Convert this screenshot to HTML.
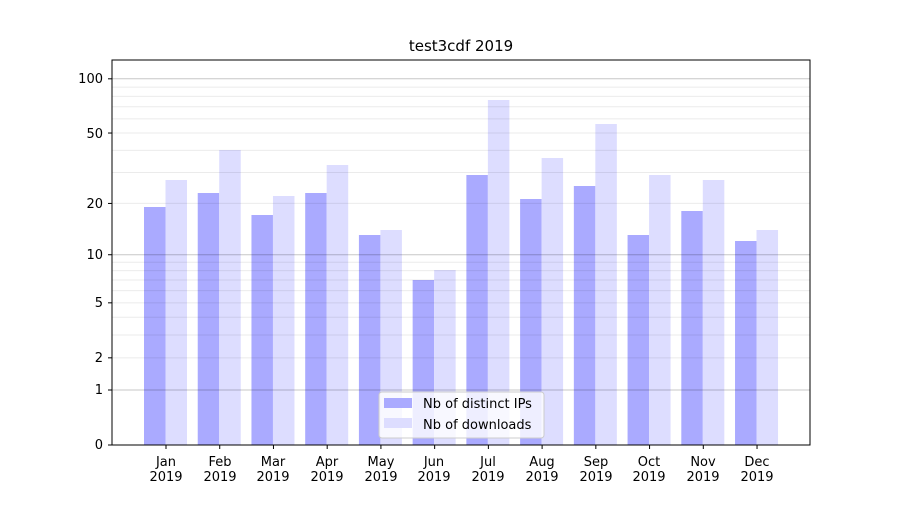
<!DOCTYPE html>
<html><head><meta charset="utf-8"><style>
body{margin:0;background:#fff}
svg text{font-family:"DejaVu Sans","Liberation Sans",sans-serif;font-size:13px;fill:#000}
</style></head><body>
<svg id="s" width="900" height="500" xmlns="http://www.w3.org/2000/svg">
<rect width="900" height="500" fill="#fff"/>
<g id="bars"></g>
<g id="grid"></g>
<rect x="112" y="60" width="698" height="385" fill="none" stroke="#000" stroke-width="1"/>
<g id="ticks"></g>
<text x="461" y="51" text-anchor="middle" style="font-size:15px">test3cdf 2019</text>
<g text-anchor="end">
<text x="103" y="449">0</text>
<text x="103" y="394">1</text>
<text x="103" y="362">2</text>
<text x="103" y="307">5</text>
<text x="103" y="259">10</text>
<text x="103" y="208">20</text>
<text x="103" y="138">50</text>
<text x="103" y="83">100</text>
</g>
<g text-anchor="middle">
<text x="166" y="466">Jan</text><text x="166" y="481">2019</text>
<text x="220" y="466">Feb</text><text x="220" y="481">2019</text>
<text x="273" y="466">Mar</text><text x="273" y="481">2019</text>
<text x="327" y="466">Apr</text><text x="327" y="481">2019</text>
<text x="381" y="466">May</text><text x="381" y="481">2019</text>
<text x="434" y="466">Jun</text><text x="434" y="481">2019</text>
<text x="488" y="466">Jul</text><text x="488" y="481">2019</text>
<text x="542" y="466">Aug</text><text x="542" y="481">2019</text>
<text x="596" y="466">Sep</text><text x="596" y="481">2019</text>
<text x="649" y="466">Oct</text><text x="649" y="481">2019</text>
<text x="703" y="466">Nov</text><text x="703" y="481">2019</text>
<text x="757" y="466">Dec</text><text x="757" y="481">2019</text>
</g>
<rect x="379" y="392" width="165" height="46" rx="3" fill="#fff" fill-opacity="0.8" stroke="#ccc"/>
<rect x="384" y="398" width="28" height="10" fill="#aaaaff"/>
<rect x="384" y="418" width="28" height="10" fill="#ddddff"/>
<text x="423" y="408">Nb of distinct IPs</text>
<text x="423" y="429">Nb of downloads</text>
</svg>
<script>
var ns="http://www.w3.org/2000/svg";
function Y(v){return 445-182.7*Math.log10(1+v);}
function el(p,t,a){var e=document.createElementNS(ns,t);for(var k in a)e.setAttribute(k,a[k]);document.getElementById(p).appendChild(e);}
var minors=[2,3,4,5,6,7,8,9,20,30,40,50,60,70,80,90];
minors.forEach(function(v){var y=Y(v);el("grid","line",{x1:112,x2:810,y1:y,y2:y,stroke:"rgba(0,0,0,0.08)","stroke-width":1});});
[1,10,100].forEach(function(v){var y=Y(v);el("grid","line",{x1:112,x2:810,y1:y,y2:y,stroke:"rgba(0,0,0,0.22)","stroke-width":1});});
[0,1,2,5,10,20,50,100].forEach(function(v){var y=Y(v);el("ticks","line",{x1:108,x2:112,y1:y,y2:y,stroke:"#000"});});
var tops=[[207,180],[193,150],[215,196],[193,165],[235,230],[280,270],[175,100],[199,158],[186,124],[235,175],[211,180],[241,230]];
tops.forEach(function(t,i){var c=166+i*53.73;
el("bars","rect",{x:c-22,y:t[0],width:21.5,height:445-t[0],fill:"#aaaaff"});
el("bars","rect",{x:c-0.5,y:t[1],width:21.5,height:445-t[1],fill:"#ddddff"});
el("ticks","line",{x1:c,x2:c,y1:445,y2:449,stroke:"#000"});});
</script>
</body></html>
